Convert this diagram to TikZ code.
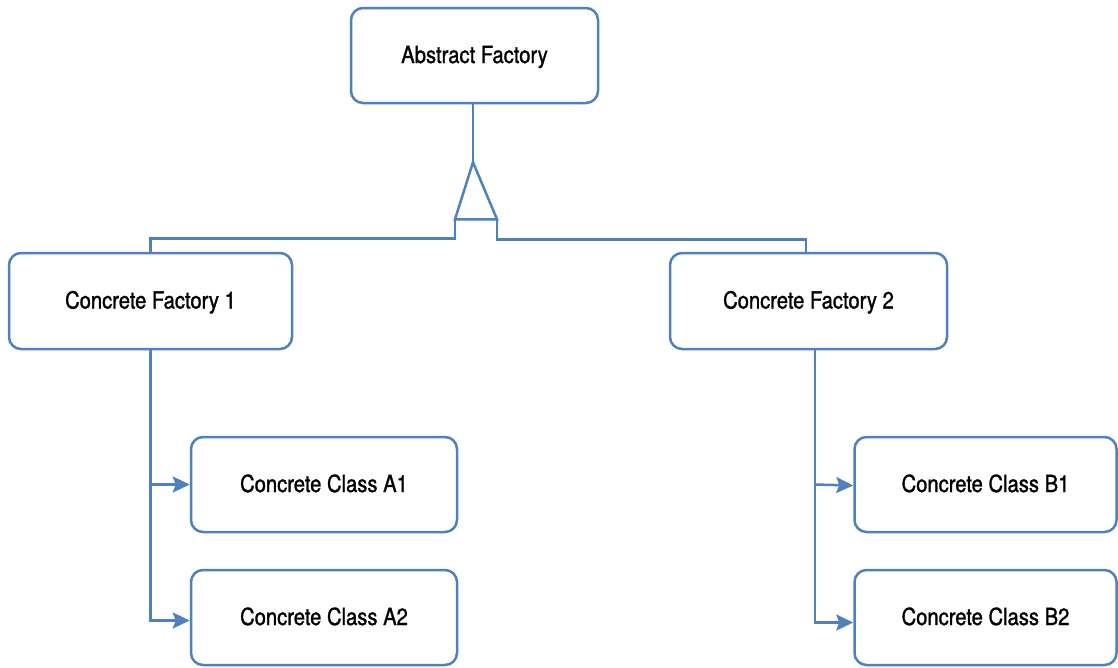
\documentclass[tikz,border=0pt]{standalone}
\usepackage{fontspec}
\setmainfont{TeX Gyre Heros}[FakeStretch=0.86,FakeBold=1.2]
\usetikzlibrary{arrows.meta,calc}
\definecolor{umlblue}{RGB}{79,129,189}
\begin{document}
\begin{tikzpicture}[x=1pt,y=-1pt,
  boxnode/.style={draw=umlblue,line width=2.5pt,rounded corners=12pt,fill=white,
    inner sep=0pt,font=\fontsize{23.5}{28}\selectfont,text=black,
    text height=17pt,text depth=2pt},
  link/.style={draw=umlblue,line width=2.5pt},
  arr/.style={link,-{Stealth[length=17pt,width=16pt,inset=3pt]}}]
\useasboundingbox (0,0) rectangle (1118,667);
\node[boxnode,minimum width=247pt,minimum height=95pt] (abs) at (474.5,55.5) {Abstract Factory};
\node[boxnode,minimum width=283pt,minimum height=96pt] (f1) at (150.5,301) {Concrete Factory 1};
\node[boxnode,minimum width=277pt,minimum height=96pt] (f2) at (808.5,301) {Concrete Factory 2};
\node[boxnode,minimum width=266pt,minimum height=95pt] (a1) at (324,484.5) {Concrete Class A1};
\node[boxnode,minimum width=266pt,minimum height=95pt] (a2) at (324,617.5) {Concrete Class A2};
\node[boxnode,minimum width=262pt,minimum height=95pt] (b1) at (985.5,484.5) {Concrete Class B1};
\node[boxnode,minimum width=262pt,minimum height=95pt] (b2) at (985.5,617.5) {Concrete Class B2};
% generalization
\coordinate (apex) at ($(abs.south)+(-1.5,58)$);
\coordinate (bl) at ($(apex)+(-18,57)$);
\coordinate (br) at ($(apex)+(24,57)$);
\draw[link] (abs.south -| apex) -- (apex);
\draw[link,line join=miter] (apex) -- (bl) -- (br) -- cycle;
\draw[link] (bl) -- ++(0,19) -| (f1.north);
\draw[link] (br) -- ++(0,20) -| ($(f2.north)+(-2.5,0)$);
% associations
\coordinate (f2s) at ($(f2.south)+(6.5,0)$);
\draw[arr] (f1.south) |- ($(a2.west)+(0,3)$);
\draw[arr] (f1.south |- a1.west) -- (a1.west);
\draw[arr] (f2s) |- ($(b2.west)+(0,5)$);
\draw[arr] (f2s |- b1.west) -- ($(b1.west)+(0,1)$);
\end{tikzpicture}
\end{document}
